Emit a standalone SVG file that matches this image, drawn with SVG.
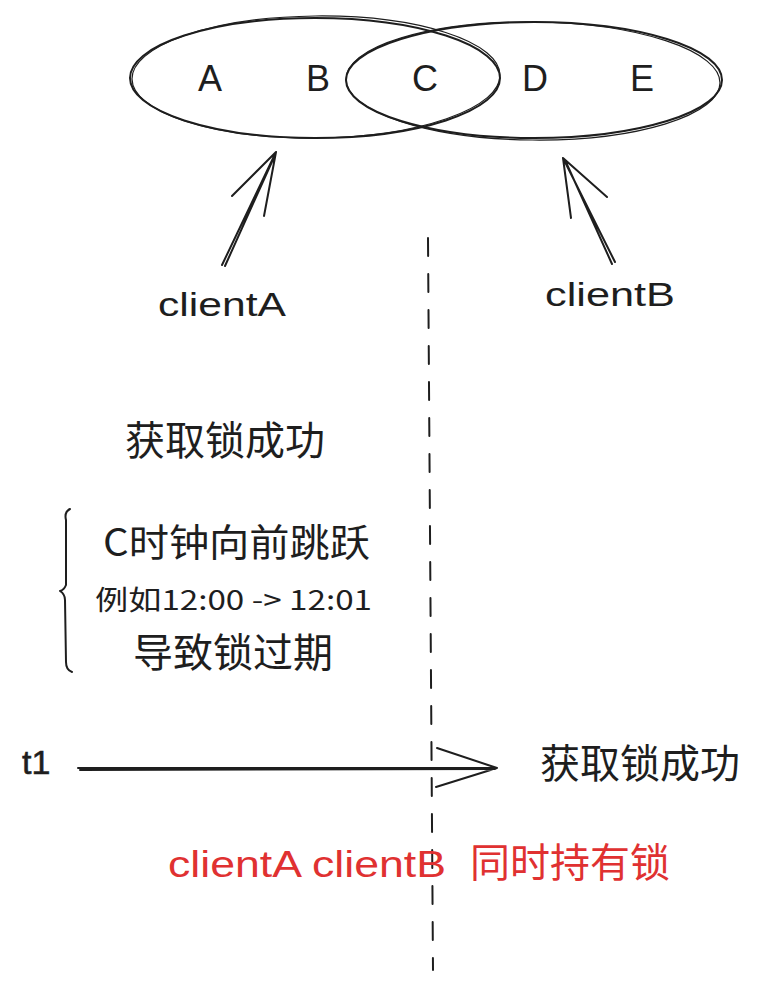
<svg xmlns="http://www.w3.org/2000/svg" width="760" height="987" viewBox="0 0 760 987">
<style>
.ln{fill:none;stroke:#1e1e1e;stroke-width:2;stroke-linecap:round;stroke-linejoin:round}
.thin{fill:none;stroke:#1e1e1e;stroke-width:1.2;stroke-linecap:round}
.lt{font-family:"Liberation Sans","Noto Sans CJK SC",sans-serif;fill:#1e1e1e}
.cj{font-family:"Noto Sans CJK SC","Liberation Sans",sans-serif;fill:#1e1e1e}
.red{fill:#e03131}
.dash{fill:none;stroke:#1e1e1e;stroke-width:2;stroke-dasharray:18 18;stroke-linecap:round}
</style>
<rect width="760" height="987" fill="#ffffff"/>
<g id="setA">
<ellipse class="ln" cx="315" cy="78" rx="185" ry="60"/>
<ellipse class="thin" cx="316" cy="77" rx="184" ry="61" transform="rotate(-0.6 316 77)"/>
</g>
<g id="setB">
<ellipse class="ln" cx="534" cy="80" rx="188" ry="58"/>
<ellipse class="thin" cx="533" cy="81" rx="187" ry="59" transform="rotate(0.6 533 81)"/>
</g>
<g id="letters">
<text class="lt" x="210" y="91" font-size="36" text-anchor="middle">A</text>
<text class="lt" x="318" y="91" font-size="36" text-anchor="middle">B</text>
<text class="lt" x="425" y="91" font-size="36" text-anchor="middle">C</text>
<text class="lt" x="535" y="91" font-size="36" text-anchor="middle">D</text>
<text class="lt" x="642" y="91" font-size="36" text-anchor="middle">E</text>
</g>
<g id="connectors">
<path class="ln" d="M222 265 L276 152 M225 266 L275 155 M276 152 L232 196 M276 152 L264 216"/>
<path class="ln" d="M615 262 L563 158 M612 264 L565 160 M563 158 L571 218 M563 158 L607 197"/>
<path class="dash" d="M428 238 L433 970"/>
<path class="ln" d="M78 768 L497 768 M80 770 L495 769 M497 768 L437 748 M497 768 L436 787"/>
<path class="ln" d="M70 509 Q64 512 66 520 L66 585 Q64 590 60 591 Q65 594 65 600 L66 662 Q66 670 72 672"/>
</g>
<g id="clientA"><text class="lt" x="158" y="316" font-size="34" textLength="128" lengthAdjust="spacingAndGlyphs">clientA</text></g>
<g id="clientB"><text class="lt" x="545" y="306" font-size="34" textLength="130" lengthAdjust="spacingAndGlyphs">clientB</text></g>
<g id="acquire1"><text class="cj" x="125" y="455" font-size="40">获取锁成功</text></g>
<g id="clockjump">
<text class="cj" x="103" y="556" font-size="38" textLength="267" lengthAdjust="spacingAndGlyphs">C时钟向前跳跃</text>
<text class="cj" x="95" y="610" font-size="27" textLength="277" lengthAdjust="spacingAndGlyphs">例如12:00  -&gt; 12:01</text>
<text class="cj" x="133" y="667" font-size="40">导致锁过期</text>
</g>
<g id="t1"><text class="lt" x="22" y="774" font-size="34" stroke="#1e1e1e" stroke-width="0.6">t1</text></g>
<g id="acquire2"><text class="cj" x="540" y="778" font-size="40">获取锁成功</text></g>
<g id="both"><text class="lt red" x="168" y="877" font-size="36" textLength="278" lengthAdjust="spacingAndGlyphs">clientA clientB</text><text class="cj red" x="470" y="877" font-size="40">同时持有锁</text></g>
</svg>
